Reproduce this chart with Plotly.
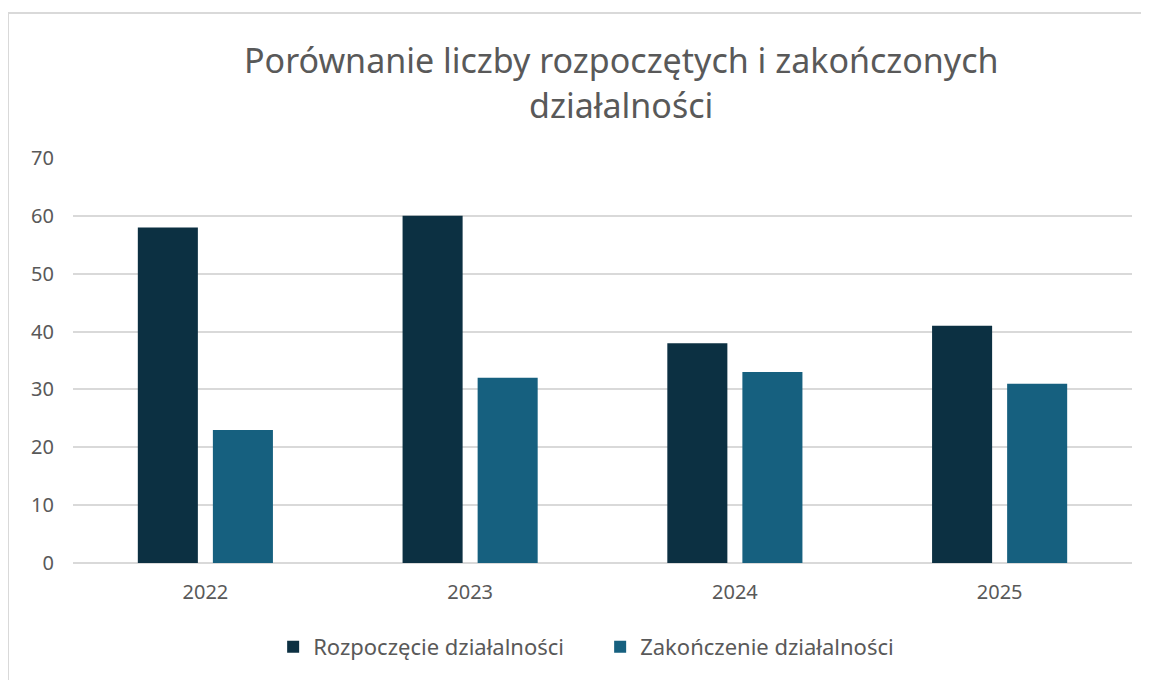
import plotly.graph_objects as go

years = ["2022", "2023", "2024", "2025"]
started = [58, 60, 38, 41]
closed = [23, 32, 33, 31]
y_ticks = [0, 10, 20, 30, 40, 50, 60, 70]

title_lines = ["Porównanie liczby rozpoczętych i zakończonych", "działalności"]
series_names = ["Rozpoczęcie działalności", "Zakończenie działalności"]

DARK = "#0C3042"
TEAL = "#16607F"
GRAY = "#595959"
GRID = "#D9D9D9"
FONT = "Noto Sans"

fig = go.Figure()
fig.add_trace(go.Bar(x=years, y=started, name=series_names[0],
                     marker=dict(color=DARK, line=dict(width=0))))
fig.add_trace(go.Bar(x=years, y=closed, name=series_names[1],
                     marker=dict(color=TEAL, line=dict(width=0))))

# the page body has an 8px margin, so margins are shifted by that amount
fig.update_layout(
    width=1149,
    height=680,
    margin=dict(l=65, r=25, t=150, b=125, autoexpand=False),
    paper_bgcolor="white",
    plot_bgcolor="white",
    barmode="group",
    bargap=0.433,
    bargroupgap=0.2,
    font=dict(family=FONT, color=GRAY, size=20),
    showlegend=True,
    legend=dict(orientation="h", x=0.189, xanchor="left", y=-0.207, yanchor="middle",
                font=dict(size=22, color=GRAY), entrywidth=282, itemwidth=30),
    xaxis=dict(showgrid=False, showline=False, ticks="", ticklabelstandoff=15,
               tickfont=dict(size=20, color=GRAY)),
    yaxis=dict(range=[0, 70], tickvals=y_ticks, showgrid=True, gridcolor=GRID, gridwidth=1.5,
               zeroline=True, zerolinecolor=GRID, zerolinewidth=1.5, showline=False,
               ticks="", ticklabelstandoff=18, tickfont=dict(size=20, color=GRAY)),
)

# chart title, two centred lines
fig.add_annotation(text=title_lines[0], xref="paper", yref="paper", x=0.5175, y=1.242,
                   xanchor="center", yanchor="middle", showarrow=False,
                   font=dict(size=34, color=GRAY, family=FONT))
fig.add_annotation(text=title_lines[1], xref="paper", yref="paper", x=0.5175, y=1.131,
                   xanchor="center", yanchor="middle", showarrow=False,
                   font=dict(size=34, color=GRAY, family=FONT))

# chart area border (top and left visible)
fig.add_shape(type="line", xref="paper", yref="paper", x0=-0.0614, x1=1.1, y0=1.358, y1=1.358,
              line=dict(color=GRID, width=2))
fig.add_shape(type="line", xref="paper", yref="paper", x0=-0.0614, x1=-0.0614, y0=1.358, y1=-0.4,
              line=dict(color=GRID, width=2))

fig.write_html("out.html")
